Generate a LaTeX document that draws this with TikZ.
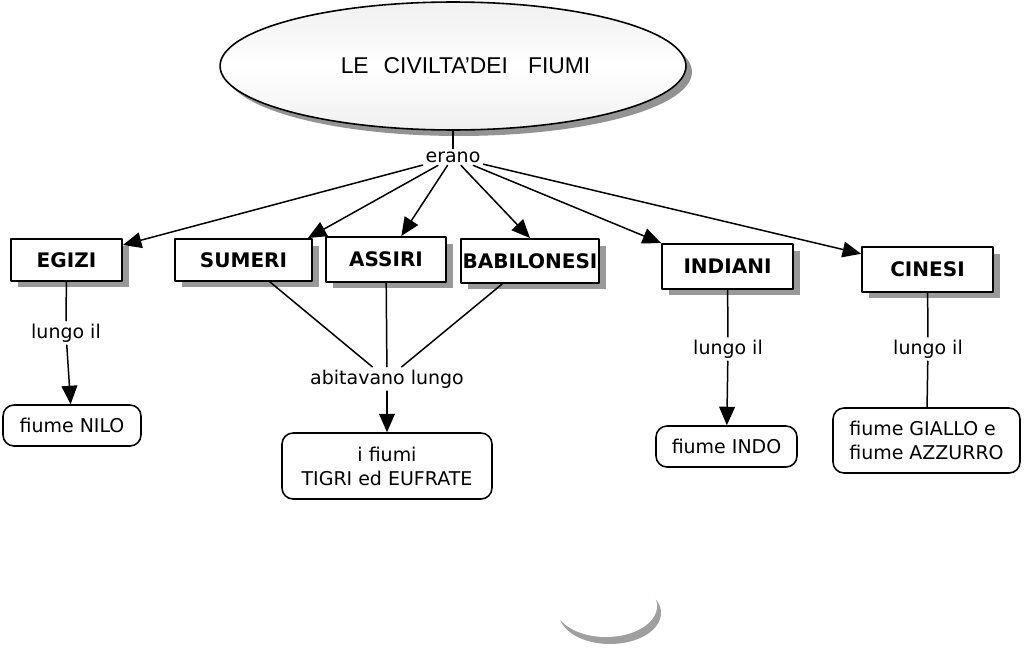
\documentclass[tikz,border=0pt]{standalone}
\usepackage{fontspec}
\setmainfont{DejaVu Sans}
\newfontfamily\titlefont{Liberation Sans}
\usetikzlibrary{arrows.meta,shapes.geometric,shadows}

\begin{document}
\begin{tikzpicture}[x=0.02cm, y=-0.02cm, line cap=round, line join=round,
	>={Triangle[length=10.5pt,width=9pt]},
	popolo/.style={draw, line width=1.1pt, fill=white, inner sep=0pt,
		font=\bfseries\fontsize{11.4}{14}\selectfont,
		drop shadow={shadow xshift=0.14cm, shadow yshift=-0.13cm, fill=gray!80, opacity=1}},
	fiume/.style={draw, line width=0.9pt, rounded corners=0.22cm, fill=white,
		inner sep=0pt, font=\fontsize{10.8}{13.6}\selectfont},
	verbo/.style={fill=white, inner sep=1.5pt, font=\fontsize{10.8}{13}\selectfont},
	legame/.style={line width=0.85pt}]
	% Bounding box of the whole map
	\useasboundingbox (0,0) rectangle (1024,649);
	
	% Title ellipse
	\node[ellipse, draw, line width=0.9pt, minimum width=9.32cm, minimum height=2.56cm,
		top color=gray!12, bottom color=gray!12, middle color=white,
		drop shadow={shadow xshift=0.12cm, shadow yshift=-0.12cm, fill=gray!85, opacity=1}]
		(titolo) at (453,66) {\hspace{0.5cm}\titlefont\fontsize{13}{15}\selectfont
		LE\hspace{0.3cm}CIVILTA’DEI\hspace{0.4cm}FIUMI};
	\node[verbo] (erano) at (453,157) {erano};
	
	% The peoples
	\node[popolo, minimum width=2.22cm, minimum height=0.84cm] (egizi) at (66.5,260) {EGIZI};
	\node[popolo, minimum width=2.74cm, minimum height=0.84cm] (sumeri) at (243.5,260) {SUMERI};
	\node[popolo, minimum width=2.40cm, minimum height=0.90cm] (assiri) at (386,259.5) {ASSIRI};
	\node[popolo, minimum width=2.76cm, minimum height=0.88cm] (babilonesi) at (530,261) {BABILONESI};
	\node[popolo, minimum width=2.62cm, minimum height=0.90cm] (indiani) at (727.5,266.5) {INDIANI};
	\node[popolo, minimum width=2.62cm, minimum height=0.90cm] (cinesi) at (927.5,269.5) {CINESI};
	
	% Linking words
	\node[verbo] (lungoA) at (66,333) {lungo il};
	\node[verbo] (abitavano) at (387,379) {abitavano lungo};
	\node[verbo] (lungoB) at (728,349) {lungo il};
	\node[verbo] (lungoC) at (928,349) {lungo il};
	
	% The rivers
	\node[fiume, minimum width=2.76cm, minimum height=0.82cm] (nilo) at (72,425.5) {fiume NILO};
	\node[fiume, minimum width=4.20cm, minimum height=1.32cm, align=center] (tigri) at (387,466) {i fiumi\\TIGRI ed EUFRATE};
	\node[fiume, minimum width=2.82cm, minimum height=0.82cm] (indo) at (726.5,446.5) {fiume INDO};
	\node[fiume, minimum width=3.74cm, minimum height=1.30cm, align=left] (giallo) at (926.5,440.5) {fiume GIALLO e\\fiume AZZURRO};
	
	% Connectors from the title
	\draw[legame] (titolo) -- (erano);
	\draw[legame, ->] (erano) -- (egizi);
	\draw[legame, ->] (erano) -- ([xshift=-0.1cm]sumeri.north east);
	\draw[legame, ->] (erano) -- (assiri);
	\draw[legame, ->] (erano) -- (babilonesi.north);
	\draw[legame, ->] (erano) -- (indiani.north west);
	\draw[legame, ->] (erano) -- (cinesi);
	
	% Connectors to the rivers
	\draw[legame] (egizi) -- (lungoA);
	\draw[legame, ->] (lungoA) -- (nilo);
	\foreach \p in {sumeri,assiri,babilonesi}
	\draw[legame] (\p) -- (abitavano);
	\draw[legame, ->] (abitavano) -- (tigri);
	\draw[legame] (indiani) -- (lungoB);
	\draw[legame, ->] (lungoB) -- (indo);
	\draw[legame] (cinesi) -- (lungoC);
	\draw[legame] (lungoC) -- (giallo);
	
	% Stray shadow at the bottom
	\fill[gray!75] (610,613) ellipse [x radius=51, y radius=31];
	\fill[white] (606,606) ellipse [x radius=51, y radius=31];
\end{tikzpicture}
\end{document}
